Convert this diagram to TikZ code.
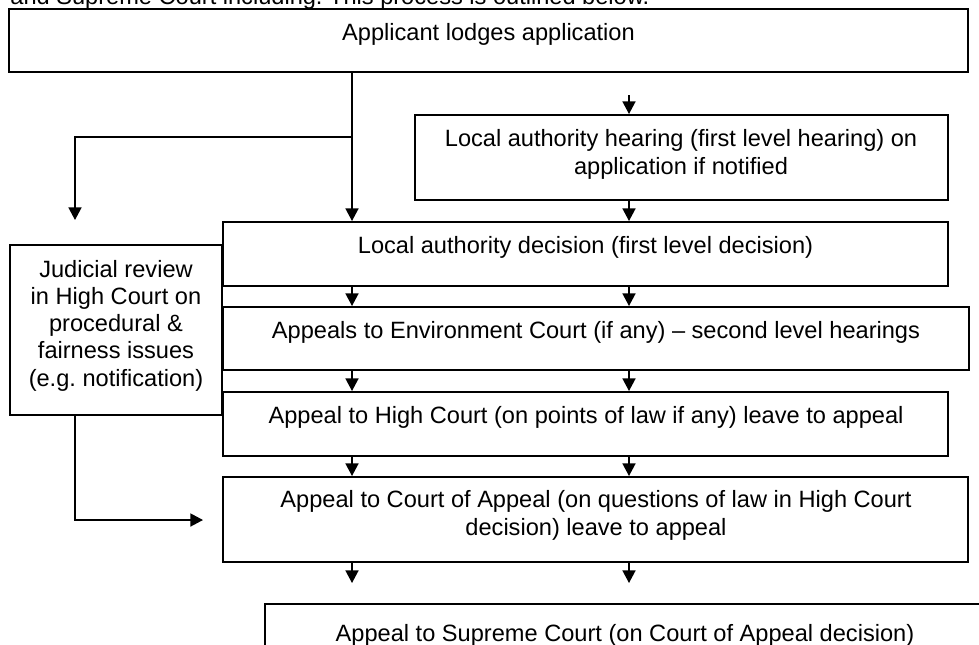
\documentclass[tikz,border=0pt]{standalone}
\usepackage{fontspec}
\setmainfont{Liberation Sans}
\frenchspacing
\usetikzlibrary{arrows.meta,fit}
\tikzset{
  boxnode/.style={draw, line width=1pt, inner sep=0pt, rectangle},
  lbl/.style={font=\fontsize{11.8}{13.6}\selectfont, align=center, inner sep=0pt, anchor=base},
  conn/.style={line width=0.8pt, -{Triangle[width=6.5pt,length=6.3pt]}},
  plainline/.style={line width=0.8pt}
}
\begin{document}
\begin{tikzpicture}[x=0.5pt,y=-0.5pt]
\useasboundingbox (0,0) rectangle (979,644);
\clip (0,0) rectangle (979,644);
\fill[white] (0,0) rectangle (979,644);

% cropped heading line
\node[lbl, anchor=base west] (head) at (10,4) {and Supreme Court including. This process is outlined below.};

% boxes
\node[boxnode, fit={(9,9) (968,72)}] (app) {};
\node[boxnode, fit={(415,115) (948,200)}] (hear) {};
\node[boxnode, fit={(223,222) (948,286)}] (dec) {};
\node[boxnode, fit={(223,307) (969,370)}] (env) {};
\node[boxnode, fit={(223,392) (948,456)}] (hc) {};
\node[boxnode, fit={(223,477) (968,562)}] (coa) {};
\node[boxnode, fit={(265,604) (985,690)}] (sup) {};
\node[boxnode, fit={(10,245) (222,415)}] (jr) {};

% texts (multi-line nodes: base = baseline of last line)
\node[lbl] (appt) at (488.5,40) {Applicant lodges application};
\node[lbl] (heart) at (681,174) {Local authority hearing (first level hearing) on\\application if notified};
\node[lbl] (dect) at (585.5,253) {Local authority decision (first level decision)};
\node[lbl] (envt) at (596,338) {Appeals to Environment Court (if any) -- second level hearings};
\node[lbl] (hct) at (586,423) {Appeal to High Court (on points of law if any) leave to appeal};
\node[lbl] (coat) at (596,535) {Appeal to Court of Appeal (on questions of law in High Court\\decision) leave to appeal};
\node[lbl] (supt) at (625,641) {Appeal to Supreme Court (on Court of Appeal decision)};
\node[lbl] (jrt) at (116,386) {Judicial review\\in High Court on\\procedural \&\\fairness issues\\(e.g. notification)};

% helper coordinates
\coordinate (cL) at (352,0);
\coordinate (cR) at (629,0);
\coordinate (br) at (352,137);
\coordinate (jtip) at (75,220);
\coordinate (hin) at (629,95);
\coordinate (sL) at (352,583);
\coordinate (sR) at (629,583);
\coordinate (jl) at (75,0);
\coordinate (ctip) at (203,520);

% connectors
\draw[conn] (app.south -| cL) -- (dec.north -| cL);
\draw[conn] (br) -| (jtip);
\draw[conn] (hin) -- (hear.north -| cR);
\draw[conn] (hear.south -| cR) -- (dec.north -| cR);
\draw[conn] (dec.south -| cL) -- (env.north -| cL);
\draw[conn] (dec.south -| cR) -- (env.north -| cR);
\draw[conn] (env.south -| cL) -- (hc.north -| cL);
\draw[conn] (env.south -| cR) -- (hc.north -| cR);
\draw[conn] (hc.south -| cL) -- (coa.north -| cL);
\draw[conn] (hc.south -| cR) -- (coa.north -| cR);
\draw[conn] (coa.south -| cL) -- (sL);
\draw[conn] (coa.south -| cR) -- (sR);
\draw[conn] (jr.south -| jl) |- (ctip);
\end{tikzpicture}
\end{document}
